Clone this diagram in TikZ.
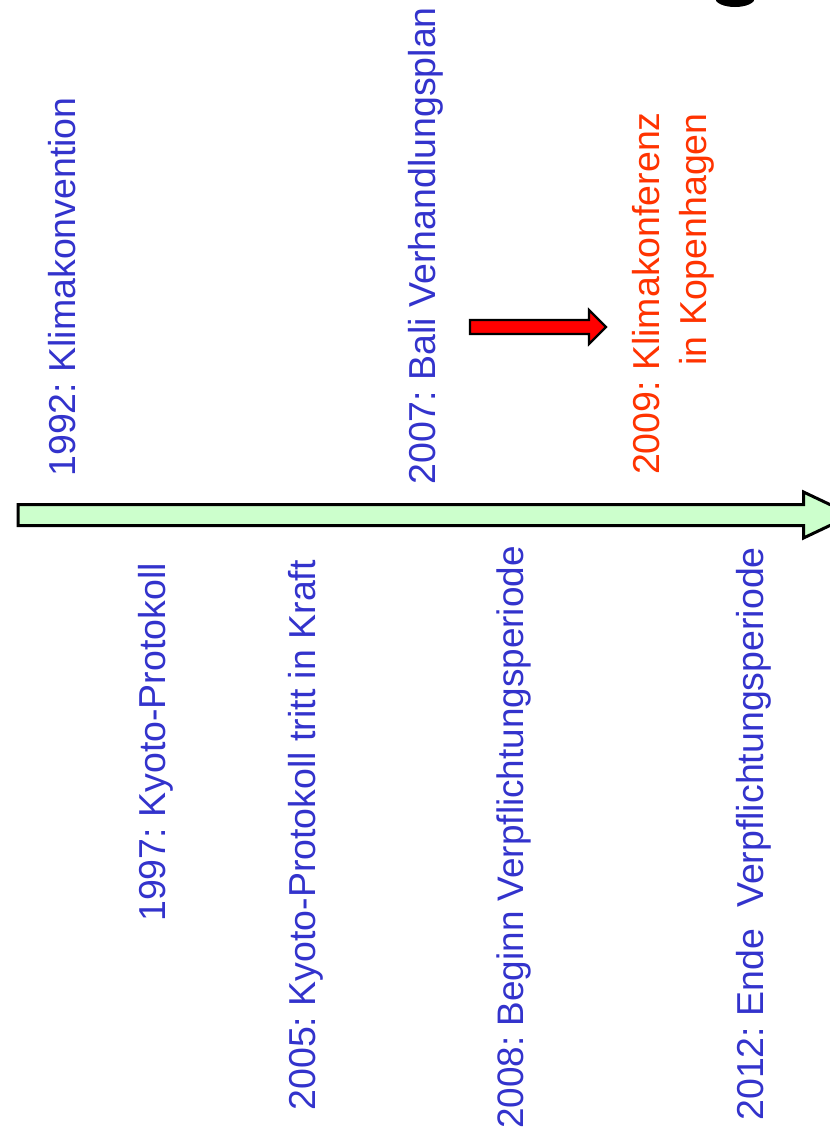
\documentclass[tikz,border=0pt]{standalone}
\usepackage{fontspec}
\setmainfont{Liberation Sans}
\frenchspacing
\definecolor{kblue}{RGB}{51,51,204}
\definecolor{kred}{RGB}{255,51,0}
\definecolor{kgreen}{RGB}{204,255,204}
\tikzset{
  lbl/.style={rotate=90, anchor=base east, inner sep=0pt, font=\fontsize{37.5}{45}\selectfont\frenchspacing, text=kblue},
  redlbl/.style={lbl, text=kred},
  bigarrow/.style={draw=black, line width=3pt, fill=kgreen, line join=miter},
  smallarrow/.style={draw=black, line width=2.2pt, fill=red, line join=miter}
}
\begin{document}
\begin{tikzpicture}[x=1pt,y=-1pt]
\useasboundingbox (0,0) rectangle (830,1133);
\clip (0,0) rectangle (830,1133);
\fill[white] (0,0) rectangle (830,1133);
% black blob at top right (cut-off glyph)
\fill[black] (735,-2) ellipse [x radius=20, y radius=9];
% timeline arrow
\draw[bigarrow] (18,504.5) -- (803.5,504.5) -- (803.5,492) -- (852,515) -- (803.5,538) -- (803.5,525.5) -- (18,525.5) -- cycle;
% red arrow
\draw[smallarrow] (470,320) -- (589,320) -- (589,310) -- (606,327) -- (589,344) -- (589,334) -- (470,334) -- cycle;
% labels above
\node[lbl] (t1992) at (75,97) {1992: Klimakonvention};
\node[lbl] (t2007) at (435,7) {2007: Bali Verhandlungsplan};
\node[redlbl] (t2009a) at (659,112) {2009: Klimakonferenz};
\node[redlbl] (t2009b) at (706,113) {in Kopenhagen};
% labels below
\node[lbl] (t1997) at (165,563) {1997: Kyoto-Protokoll};
\node[lbl] (t2005) at (315,560) {2005: Kyoto-Protokoll tritt in Kraft};
\node[lbl, font=\fontsize{36.9}{44}\selectfont\frenchspacing] (t2008) at (523,546) {2008: Beginn Verpflichtungsperiode};
\node[lbl] (t2012) at (763,547) {2012: Ende\ \ Verpflichtungsperiode};
\end{tikzpicture}
\end{document}
